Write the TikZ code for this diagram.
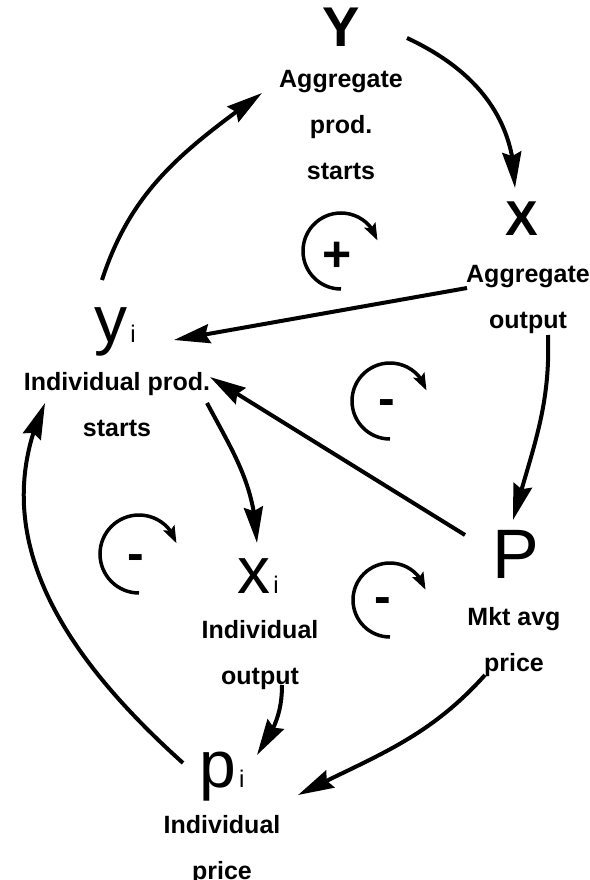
\documentclass[tikz,border=0pt]{standalone}
\usepackage{fontspec}
\setmainfont{Liberation Sans}
\usetikzlibrary{arrows.meta, bending}

\begin{document}
\begin{tikzpicture}[
  x=1pt, y=1pt,
  letter/.style={font=\fontsize{66}{66}\selectfont, inner sep=0pt, anchor=base},
  lab/.style={font=\fontsize{25}{46}\selectfont\bfseries, align=center, inner sep=0pt, anchor=north},
  conn/.style={line width=4pt, -{Stealth[length=36pt, width=19pt, inset=4pt]}},
  turn/.style={line width=3.5pt, -{Stealth[length=17pt, width=12pt, inset=3pt]}},
  sign/.style={font=\fontsize{50}{50}\selectfont\bfseries, inner sep=0pt}
]
  \useasboundingbox (0,0) rectangle (589,-880);

  % variables
  \node[letter, font=\fontsize{56}{56}\selectfont\bfseries] (Y) at (341,-47) {Y};
  \node[lab] (Ylab) at (341,-70) {Aggregate\\prod.\\starts};
  \node[letter, font=\fontsize{49}{49}\selectfont\bfseries] (X) at (522,-235) {X};
  \node[lab] (Xlab) at (528,-265) {Aggregate\\output};
  \node[letter] (yi) at (115,-342) {y\kern3pt{\fontsize{24}{24}\selectfont i}};
  \node[lab] (yilab) at (117,-372) {Individual prod.\\starts};
  \node[letter] (xi) at (258,-593) {x\kern3pt{\fontsize{24}{24}\selectfont i}};
  \node[lab] (xilab) at (260,-620) {Individual\\output};
  \node[letter, font=\fontsize{70}{70}\selectfont] (P) at (516,-578) {P};
  \node[lab] (Plab) at (514,-607) {Mkt avg\\price};
  \node[letter] (pi) at (222,-787) {p\kern3pt{\fontsize{24}{24}\selectfont i}};
  \node[lab] (pilab) at (222,-815) {Individual\\price};

  % links
  \draw[conn] ([shift={(66,9)}]Y.base) to[out=-25, in=90] ([shift={(-7,47)}]X.base);
  \draw[conn] ([shift={(-61,-23)}]Xlab.north) -- ([shift={(59,2)}]yi.base);
  \draw[conn] ([shift={(20,-70)}]Xlab.north) to[out=-88, in=75] ([shift={(-3,58)}]P.base);
  \draw[conn] ([shift={(-51,43)}]P.base) -- ([shift={(93,-5)}]yilab.north);
  \draw[conn] ([shift={(-13,62)}]yi.base) to[out=72, in=-144] ([shift={(-79,-23)}]Ylab.north);
  \draw[conn] ([shift={(90,-31)}]yilab.north) to[out=-62, in=92] ([shift={(-1,50)}]xi.base);
  \draw[conn] ([shift={(22,-65)}]xilab.north) to[out=-90, in=55] ([shift={(35,32)}]pi.base);
  \draw[conn] ([shift={(-29,-68)}]Plab.north) to[out=-132, in=27] ([shift={(76,-8)}]pi.base);
  \draw[conn] ([shift={(-39,24)}]pi.base) to[out=138, in=-115] ([shift={(-72,-31)}]yilab.north);

  % loop signs
  \foreach \cx/\cy/\r in {341/251/38, 390/401/38, 390/600/37, 139/554/39}
    \draw[turn] (\cx,-\cy-\r) arc[start angle=270, end angle=16, radius=\r];
  \node[sign] (plus) at (337,-257) {+};
  \foreach \sx/\sy [count=\i] in {387/408, 383/606, 136/563}
    \node[sign] (minus\i) at (\sx,-\sy) {-};
\end{tikzpicture}
\end{document}
